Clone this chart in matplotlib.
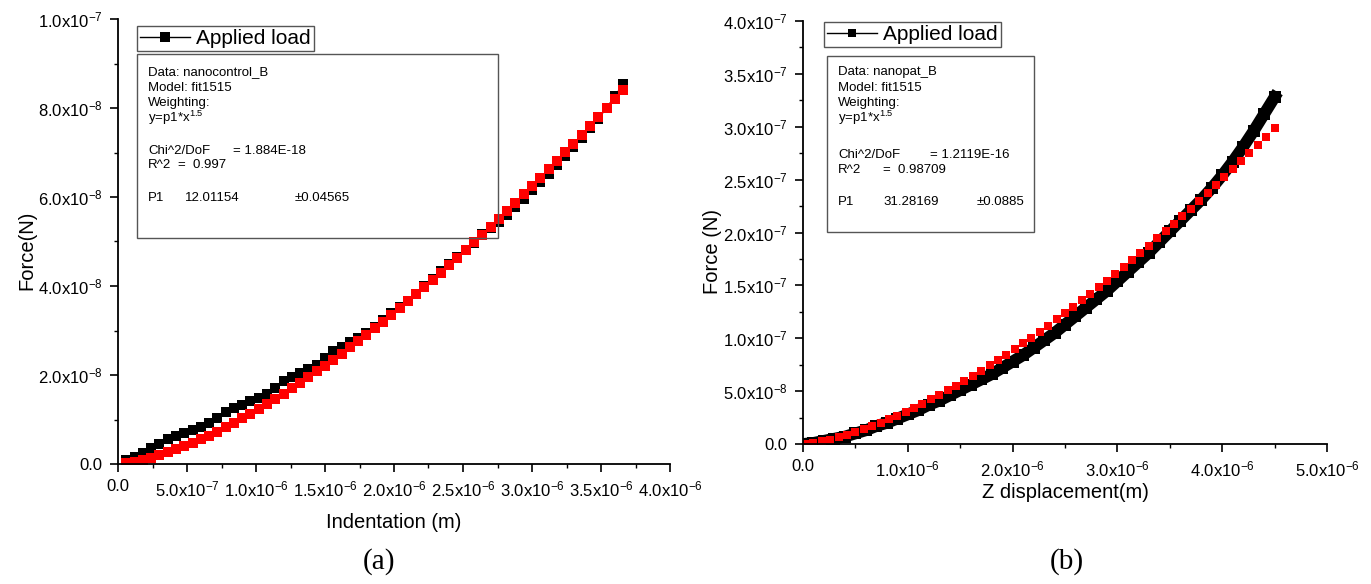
import numpy as np
import matplotlib
matplotlib.use('Agg')
import matplotlib.pyplot as plt
from matplotlib.patches import Rectangle
from matplotlib.ticker import FixedLocator, MultipleLocator

plt.rcParams['font.family'] = ['Liberation Sans', 'DejaVu Sans']
plt.rcParams['mathtext.fontset'] = 'custom'
plt.rcParams['mathtext.rm'] = 'Liberation Sans'
plt.rcParams['mathtext.it'] = 'Liberation Sans:italic'
plt.rcParams['mathtext.default'] = 'regular'
plt.rcParams['axes.unicode_minus'] = False

# ---- panel (a): indentation (um) vs force (1e-9 N)
x_a = [0.06, 0.12, 0.18, 0.24, 0.30, 0.36, 0.42, 0.48, 0.54, 0.60,
       0.66, 0.72, 0.78, 0.84, 0.90, 0.96, 1.02, 1.08, 1.14, 1.20,
       1.26, 1.32, 1.38, 1.44, 1.50, 1.56, 1.62, 1.68, 1.74, 1.80,
       1.86, 1.92, 1.98, 2.04, 2.10, 2.16, 2.22, 2.28, 2.34, 2.40,
       2.46, 2.52, 2.58, 2.64, 2.70, 2.76, 2.82, 2.88, 2.94, 3.00,
       3.06, 3.12, 3.18, 3.24, 3.30, 3.36, 3.42, 3.48, 3.54, 3.60, 3.66]
load_a = [1.0, 1.6, 2.5, 3.6, 4.6, 5.7, 6.3, 6.9, 7.6, 8.4,
          9.3, 10.4, 11.6, 12.6, 13.3, 14.1, 14.9, 15.8, 17.0, 18.6,
          19.6, 20.5, 21.3, 22.3, 23.8, 25.4, 26.4, 27.4, 28.4, 29.4,
          30.8, 32.4, 34.0, 35.2, 36.6, 38.2, 40.0, 41.6, 43.3, 44.9,
          46.5, 48.0, 49.7, 51.6, 53.0, 54.4, 56.0, 57.8, 59.6, 61.5,
          63.4, 65.2, 67.1, 69.2, 71.2, 73.2, 75.4, 77.6, 80.0, 82.6, 85.4]
fit_a = [0.2, 0.5, 0.9, 1.4, 2.0, 2.6, 3.3, 4.0, 4.8, 5.6,
         6.4, 7.3, 8.3, 9.2, 10.3, 11.3, 12.4, 13.5, 14.6, 15.8,
         17.0, 18.2, 19.5, 20.8, 22.1, 23.4, 24.8, 26.2, 27.6, 29.0,
         30.5, 32.0, 33.5, 35.0, 36.6, 38.1, 39.7, 41.4, 43.0, 44.7,
         46.3, 48.1, 49.8, 51.5, 53.3, 55.1, 56.9, 58.7, 60.6, 62.4,
         64.3, 66.2, 68.1, 70.1, 72.0, 74.0, 76.0, 78.0, 80.0, 82.0, 84.1]

# ---- panel (b): Z displacement (um) vs force (1e-7 N)
x_b = [0.0, 0.1, 0.2, 0.3, 0.4, 0.5, 0.6, 0.7, 0.8, 0.9,
       1.0, 1.1, 1.2, 1.3, 1.4, 1.5, 1.6, 1.7, 1.8, 1.9,
       2.0, 2.1, 2.2, 2.3, 2.4, 2.5, 2.6, 2.7, 2.8, 2.9,
       3.0, 3.1, 3.2, 3.3, 3.4, 3.5, 3.6, 3.7, 3.8, 3.9,
       4.0, 4.1, 4.2, 4.3, 4.4, 4.5]
load_b = [0.00, 0.01, 0.03, 0.05, 0.07, 0.10, 0.13, 0.17, 0.20, 0.24,
          0.28, 0.32, 0.37, 0.41, 0.46, 0.51, 0.56, 0.61, 0.66, 0.72,
          0.78, 0.84, 0.91, 0.98, 1.05, 1.13, 1.21, 1.29, 1.37, 1.45,
          1.54, 1.63, 1.72, 1.81, 1.91, 2.01, 2.11, 2.21, 2.31, 2.42,
          2.54, 2.67, 2.81, 2.96, 3.12, 3.28]
xfit_b = [0.02, 0.10, 0.18, 0.26, 0.34, 0.42, 0.50, 0.58, 0.66, 0.74,
          0.82, 0.90, 0.98, 1.06, 1.14, 1.22, 1.30, 1.38, 1.46, 1.54,
          1.62, 1.70, 1.78, 1.86, 1.94, 2.02, 2.10, 2.18, 2.26, 2.34,
          2.42, 2.50, 2.58, 2.66, 2.74, 2.82, 2.90, 2.98, 3.06, 3.14,
          3.22, 3.30, 3.38, 3.46, 3.54, 3.62, 3.70, 3.78, 3.86, 3.94,
          4.02, 4.10, 4.18, 4.26, 4.34, 4.42, 4.50]
fit_b = [0.001, 0.010, 0.024, 0.042, 0.062, 0.085, 0.111, 0.138, 0.168, 0.199,
         0.232, 0.267, 0.304, 0.341, 0.381, 0.422, 0.464, 0.507, 0.552, 0.598,
         0.645, 0.693, 0.743, 0.794, 0.845, 0.898, 0.952, 1.007, 1.063, 1.120,
         1.178, 1.236, 1.296, 1.357, 1.419, 1.481, 1.545, 1.609, 1.674, 1.741,
         1.807, 1.875, 1.944, 2.013, 2.083, 2.154, 2.226, 2.299, 2.372, 2.446,
         2.521, 2.597, 2.673, 2.750, 2.828, 2.907, 2.986]

xticks_a = [0, 0.5e-6, 1.0e-6, 1.5e-6, 2.0e-6, 2.5e-6, 3.0e-6, 3.5e-6, 4.0e-6]
xlabels_a = ['0.0', '5.0x10$^{-7}$', '1.0x10$^{-6}$', '1.5x10$^{-6}$', '2.0x10$^{-6}$',
             '2.5x10$^{-6}$', '3.0x10$^{-6}$', '3.5x10$^{-6}$', '4.0x10$^{-6}$']
yticks_a = [0, 2e-8, 4e-8, 6e-8, 8e-8, 1e-7]
ylabels_a = ['0.0', '2.0x10$^{-8}$', '4.0x10$^{-8}$', '6.0x10$^{-8}$', '8.0x10$^{-8}$',
             '1.0x10$^{-7}$']
xticks_b = [0, 1e-6, 2e-6, 3e-6, 4e-6, 5e-6]
xlabels_b = ['0.0', '1.0x10$^{-6}$', '2.0x10$^{-6}$', '3.0x10$^{-6}$', '4.0x10$^{-6}$',
             '5.0x10$^{-6}$']
yticks_b = [0, 0.5e-7, 1e-7, 1.5e-7, 2e-7, 2.5e-7, 3e-7, 3.5e-7, 4e-7]
ylabels_b = ['0.0', '5.0x10$^{-8}$', '1.0x10$^{-7}$', '1.5x10$^{-7}$', '2.0x10$^{-7}$',
             '2.5x10$^{-7}$', '3.0x10$^{-7}$', '3.5x10$^{-7}$', '4.0x10$^{-7}$']

W, H = 1371, 584


def fx(px):
    return px / W


def fy(py):
    return 1 - py / H


fig = plt.figure(figsize=(13.71, 5.84), dpi=100)
ax1 = fig.add_axes([fx(118), fy(464), (670 - 118) / W, (464 - 19) / H])
ax2 = fig.add_axes([fx(803), fy(444), (1327 - 803) / W, (444 - 21) / H])

ax1.plot(np.array(x_a) * 1e-6, np.array(load_a) * 1e-9, '-s', color='black',
         lw=1, ms=6.8, mew=0, label='Applied load')
ax1.plot(np.array(x_a) * 1e-6, np.array(fit_a) * 1e-9, 's', color='red', ms=6.8, mew=0)

ax2.plot(np.array(x_b) * 1e-6, np.array(load_b) * 1e-7, '-s', color='black',
         lw=8.5, ms=8, mew=0, label='Applied load')
ax2.plot(np.array(xfit_b) * 1e-6, np.array(fit_b) * 1e-7, 's', color='red', ms=5.8, mew=0)

setups = [
    (ax1, xticks_a, xlabels_a, yticks_a, ylabels_a, 0.25e-6, 1e-8, (0, 4e-6), (0, 1e-7)),
    (ax2, xticks_b, xlabels_b, yticks_b, ylabels_b, 0.5e-6, 0.25e-7, (0, 5e-6), (0, 4e-7)),
]
for ax, xt, xl, yt, yl, xm, ym, xlim, ylim in setups:
    ax.set_xlim(*xlim)
    ax.set_ylim(*ylim)
    ax.spines['top'].set_visible(False)
    ax.spines['right'].set_visible(False)
    for s in ['left', 'bottom']:
        ax.spines[s].set_linewidth(1.3)
    ax.xaxis.set_major_locator(FixedLocator(xt))
    ax.set_xticklabels(xl)
    ax.yaxis.set_major_locator(FixedLocator(yt))
    ax.set_yticklabels(yl)
    ax.xaxis.set_minor_locator(MultipleLocator(xm))
    ax.yaxis.set_minor_locator(MultipleLocator(ym))
    ax.tick_params(which='major', direction='out', length=6, width=1.2,
                   labelsize=12, pad=5)
    ax.tick_params(which='minor', direction='out', length=3, width=1.0)

ax1.set_xlabel('Indentation (m)', fontsize=14.5, va='center')
ax1.xaxis.set_label_coords(0.5, (464 - 523) / 445)
ax1.set_ylabel('Force(N)', fontsize=14.5, va='center')
ax1.yaxis.set_label_coords((27 - 118) / 552, 0.48)

ax2.set_xlabel('Z displacement(m)', fontsize=14.5, va='center')
ax2.xaxis.set_label_coords(0.5, (444 - 492) / 423)
ax2.set_ylabel('Force (N)', fontsize=14.5, va='center')
ax2.yaxis.set_label_coords((712 - 803) / 524, 0.454)

leg1 = ax1.legend(loc='upper left', bbox_to_anchor=((137 - 118) / 552, (464 - 26) / 445),
                  borderaxespad=0, fontsize=15, fancybox=False, handlelength=2.4,
                  handletextpad=0.3, borderpad=0.15, framealpha=1)
leg1.get_frame().set_edgecolor('#555555')
leg1.get_frame().set_linewidth(1.0)
leg2 = ax2.legend(loc='upper left', bbox_to_anchor=((824 - 803) / 524, (444 - 22) / 423),
                  borderaxespad=0, fontsize=15, fancybox=False, handlelength=2.4,
                  handletextpad=0.3, borderpad=0.15, framealpha=1, markerscale=0.75)
leg2.get_frame().set_edgecolor('#555555')
leg2.get_frame().set_linewidth(1.0)
for line in leg2.get_lines():
    line.set_linewidth(1)

# fit report boxes
fig.add_artist(Rectangle((fx(137), fy(238)), (498 - 137) / W, (238 - 54) / H,
                         transform=fig.transFigure, fill=False, ec='#555555', lw=1))
fig.add_artist(Rectangle((fx(827), fy(232)), (1034 - 827) / W, (232 - 56) / H,
                         transform=fig.transFigure, fill=False, ec='#555555', lw=1))

fs = 9.5
report_a = [
    (148, 72, 'Data: nanocontrol_B'),
    (148, 88, 'Model: fit1515'),
    (148, 103, 'Weighting:'),
    (148, 118, 'y=p1*x$^{1.5}$'),
    (148, 151, 'Chi^2/DoF'),
    (233, 151, '= 1.884E-18'),
    (148, 165, 'R^2'),
    (178, 165, '=  0.997'),
    (148, 198, 'P1'),
    (185, 198, '12.01154'),
    (295, 198, '\u00b10.04565'),
]
report_b = [
    (838, 72, 'Data: nanopat_B'),
    (838, 88, 'Model: fit1515'),
    (838, 103, 'Weighting:'),
    (838, 118, 'y=p1*x$^{1.5}$'),
    (838, 155, 'Chi^2/DoF'),
    (930, 155, '= 1.2119E-16'),
    (838, 170, 'R^2'),
    (883, 170, '=  0.98709'),
    (838, 202, 'P1'),
    (883, 202, '31.28169'),
    (977, 202, '\u00b10.0885'),
]
for px, py, s in report_a + report_b:
    fig.text(fx(px), fy(py), s, fontsize=fs, ha='left', va='center')

fig.text(fx(379), fy(562), '(a)', fontsize=21, family='Liberation Serif',
         ha='center', va='center')
fig.text(fx(1067), fy(562), '(b)', fontsize=21, family='Liberation Serif',
         ha='center', va='center')

fig.savefig('out.png', dpi=100)
